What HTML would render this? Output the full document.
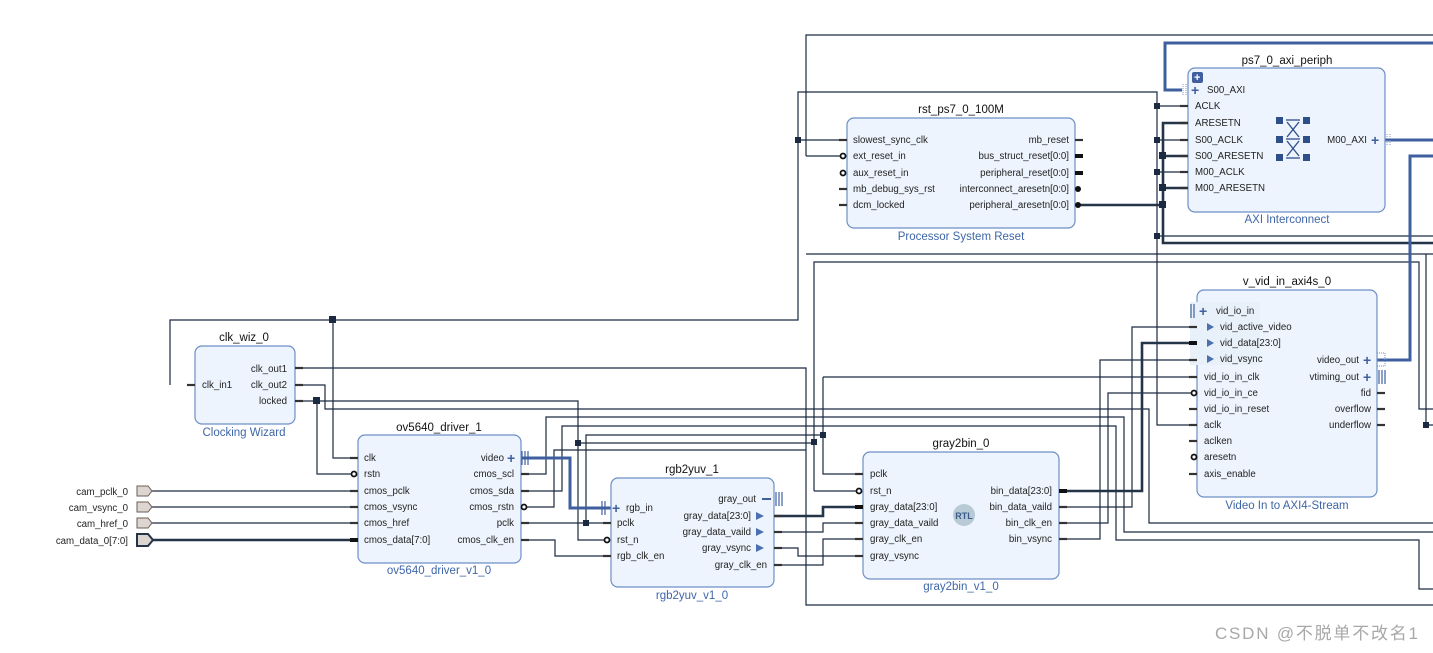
<!DOCTYPE html>
<html><head><meta charset="utf-8"><style>
html,body{margin:0;padding:0;background:#fff;}
svg{display:block;}
text{font-family:"Liberation Sans",sans-serif;font-size:9.7px;fill:#222;}
.t{font-size:11.5px;fill:#111;}
.s{font-size:11.5px;fill:#3f66a8;}
.b{fill:#edf4fd;stroke:#6d8fc6;stroke-width:1.2;}
.w{fill:none;stroke:#1b2a40;stroke-width:1.2;}
.wt{fill:none;stroke:#243449;stroke-width:2.6;}
.bl{fill:none;stroke:#3f5f9f;stroke-width:3;}
.p{stroke:#333;stroke-width:2.2;}
.pt{stroke:#111;stroke-width:4;}
.j{fill:#1b2a40;}
.r{text-anchor:end;}
.m{text-anchor:middle;}
</style></head><body>
<svg width="1433" height="653" viewBox="0 0 1433 653" xmlns="http://www.w3.org/2000/svg">
<g class="w">
<polyline points="806,156 806,35 1433,35"/>
<polyline points="806,156 847,156"/>
<polyline points="170,385 170,320 798,320 798,92 1157,92 1157,425 1197,425"/>
<polyline points="798,140 847,140"/>
<polyline points="333,320 333,458 358,458"/>
<polyline points="1157,106 1188,106"/>
<polyline points="1157,140 1188,140"/>
<polyline points="1157,172 1188,172"/>
<polyline points="1157,236 1433,236"/>
<polyline points="295,368 806,368 806,605 1433,605"/>
<polyline points="806,254 1433,254"/>
<polyline points="814,491 814,262 1419,262 1419,409 1433,409"/>
<polyline points="295,385 325,385 325,409 1149,409 1149,523 1433,523"/>
<polyline points="295,401 317,401 317,474 352,474"/>
<polyline points="317,401 578,401 578,540 605,540"/>
<polyline points="578,443 814,443"/>
<polyline points="814,491 857,491"/>
<polyline points="521,523 611,523"/>
<polyline points="586,523 586,435 823,435 823,474 863,474"/>
<polyline points="823,377 1197,377"/>
<polyline points="823,377 823,435"/>
<polyline points="521,474 546,474 546,417 1124,417 1124,532 1433,532"/>
<polyline points="521,491 562,491 562,426 1116,426 1116,540 1419,540 1419,589 1433,589"/>
<polyline points="527,507 554,507 554,450 806,450"/>
<polyline points="521,540 555,540 555,556 611,556"/>
<polyline points="774,532 823,532 823,523 863,523"/>
<polyline points="774,548 798,548 798,556 863,556"/>
<polyline points="774,565 823,565 823,539 863,539"/>
<polyline points="1059,507 1132,507 1132,327 1197,327"/>
<polyline points="1059,523 1108,523 1108,393 1191,393"/>
<polyline points="1059,539 1100,539 1100,360 1197,360"/>
<polyline points="152,491 358,491"/>
<polyline points="152,507 358,507"/>
<polyline points="152,523 358,523"/>
<polyline points="1426,254 1426,425 1433,425"/>
</g>
<g class="wt">
<polyline points="152,540 358,540"/>
<polyline points="774,516 823,516 823,507 863,507"/>
<polyline points="1059,491 1142,491 1142,343 1197,343"/>
<polyline points="1075,205 1163,205"/>
<polyline points="1188,123 1163,123 1163,243 1433,243"/>
<polyline points="1163,156 1188,156"/>
<polyline points="1163,188 1188,188"/>
</g>
<g class="bl">
<polyline points="521,458 570,458 570,508 611,508"/>
<polyline points="1182,90 1165,90 1165,43 1433,43"/>
<polyline points="1385,140 1433,140"/>
<polyline points="1377,360 1410,360 1410,156 1433,156"/>
</g>
<g class="j">
<rect x="329" y="316" width="7" height="7"/><rect x="313" y="397" width="7" height="7"/>
<rect x="795" y="137" width="6" height="6"/><rect x="1154" y="103" width="6" height="6"/>
<rect x="1154" y="137" width="6" height="6"/><rect x="1154" y="169" width="6" height="6"/>
<rect x="1154" y="233" width="6" height="6"/><rect x="1159" y="152" width="7" height="7"/>
<rect x="1159" y="184" width="7" height="7"/><rect x="1159" y="201" width="7" height="7"/>
<rect x="575" y="440" width="6" height="6"/><rect x="583" y="520" width="6" height="6"/>
<rect x="811" y="439" width="6" height="6"/><rect x="820" y="432" width="6" height="6"/>
<rect x="1423" y="422" width="6" height="6"/>
</g>
<g fill="#ddd5cf" stroke="#6b5e55" stroke-width="1">
<polygon points="137,486 148,486 152,491 148,496 137,496"/>
<polygon points="137,502 148,502 152,507 148,512 137,512"/>
<polygon points="137,518 148,518 152,523 148,528 137,528"/>
<polygon points="137,534 148,534 153,540 148,546 137,546" stroke="#243449" stroke-width="2"/>
</g>
<g class="t r" style="font-size:11px">
<text x="128" y="495" class="r">cam_pclk_0</text><text x="128" y="511" class="r">cam_vsync_0</text>
<text x="128" y="527" class="r">cam_href_0</text><text x="128" y="544" class="r">cam_data_0[7:0]</text>
</g>
<rect class="b" x="195" y="346" width="100" height="78" rx="7"/>
<text class="t m" x="244" y="341">clk_wiz_0</text><text class="s m" x="244" y="436">Clocking Wizard</text>
<line class="p" x1="187" y1="385" x2="195" y2="385"/><line class="p" x1="295" y1="368" x2="303" y2="368"/><line class="p" x1="295" y1="385" x2="303" y2="385"/><line class="p" x1="295" y1="401" x2="303" y2="401"/>
<text x="202" y="388">clk_in1</text><text class="r" x="287" y="372">clk_out1</text><text class="r" x="287" y="388">clk_out2</text><text class="r" x="287" y="404">locked</text>
<rect class="b" x="358" y="435" width="163" height="128" rx="7"/>
<text class="t m" x="439" y="431">ov5640_driver_1</text><text class="s m" x="439" y="574">ov5640_driver_v1_0</text>
<g class="p"><line x1="350" y1="458" x2="358" y2="458"/><line x1="350" y1="491" x2="358" y2="491"/><line x1="350" y1="507" x2="358" y2="507"/><line x1="350" y1="523" x2="358" y2="523"/><line x1="521" y1="474" x2="529" y2="474"/><line x1="521" y1="491" x2="529" y2="491"/><line x1="521" y1="523" x2="529" y2="523"/><line x1="521" y1="540" x2="529" y2="540"/></g>
<line class="pt" x1="350" y1="540" x2="358" y2="540"/>
<circle cx="354" cy="474" r="2.5" fill="#fff" stroke="#111" stroke-width="1.8"/><circle cx="524" cy="507" r="2.5" fill="#fff" stroke="#111" stroke-width="1.8"/>
<g><text x="364" y="461">clk</text><text x="364" y="477">rstn</text><text x="364" y="494">cmos_pclk</text><text x="364" y="510">cmos_vsync</text><text x="364" y="526">cmos_href</text><text x="364" y="543">cmos_data[7:0]</text>
<text class="r" x="504" y="461">video</text><text class="r" x="514" y="477">cmos_scl</text><text class="r" x="514" y="494">cmos_sda</text><text class="r" x="514" y="510">cmos_rstn</text><text class="r" x="514" y="526">pclk</text><text class="r" x="514" y="543">cmos_clk_en</text></g>
<text x="507" y="463" style="font-size:14px;fill:#3f5f9f;font-weight:bold">+</text>
<g stroke="#3f5f9f" stroke-width="1.2"><line x1="522" y1="451" x2="522" y2="465"/><line x1="525" y1="451" x2="525" y2="465"/><line x1="528" y1="451" x2="528" y2="465"/></g>
<rect class="b" x="611" y="478" width="163" height="109" rx="7"/>
<text class="t m" x="692" y="473">rgb2yuv_1</text><text class="s m" x="692" y="599">rgb2yuv_v1_0</text>
<g class="p"><line x1="603" y1="523" x2="611" y2="523"/><line x1="603" y1="556" x2="611" y2="556"/><line x1="774" y1="516" x2="782" y2="516"/><line x1="774" y1="532" x2="782" y2="532"/><line x1="774" y1="548" x2="782" y2="548"/><line x1="774" y1="565" x2="782" y2="565"/></g>
<circle cx="607" cy="540" r="2.5" fill="#fff" stroke="#111" stroke-width="1.8"/>
<g stroke="#3f5f9f" stroke-width="1.2"><line x1="602" y1="501" x2="602" y2="515"/><line x1="605" y1="501" x2="605" y2="515"/><line x1="776" y1="492" x2="776" y2="506"/><line x1="779" y1="492" x2="779" y2="506"/><line x1="782" y1="492" x2="782" y2="506"/></g>
<text x="612" y="513" style="font-size:14px;fill:#3f5f9f;font-weight:bold">+</text>
<line x1="762" y1="499" x2="771" y2="499" stroke="#3f5f9f" stroke-width="2"/>
<g fill="#4a70b0"><polygon points="756,512 764,516 756,520"/><polygon points="756,528 764,532 756,536"/><polygon points="756,544 764,548 756,552"/></g>
<g><text x="626" y="511">rgb_in</text><text x="617" y="526">pclk</text><text x="617" y="543">rst_n</text><text x="617" y="559">rgb_clk_en</text>
<text class="r" x="756" y="502">gray_out</text><text class="r" x="751" y="519">gray_data[23:0]</text><text class="r" x="751" y="535">gray_data_vaild</text><text class="r" x="751" y="551">gray_vsync</text><text class="r" x="767" y="568">gray_clk_en</text></g>
<rect class="b" x="863" y="452" width="196" height="127" rx="7"/>
<text class="t m" x="961" y="447">gray2bin_0</text><text class="s m" x="961" y="590">gray2bin_v1_0</text>
<g class="p"><line x1="855" y1="474" x2="863" y2="474"/><line x1="855" y1="523" x2="863" y2="523"/><line x1="855" y1="539" x2="863" y2="539"/><line x1="855" y1="556" x2="863" y2="556"/><line x1="1059" y1="507" x2="1067" y2="507"/><line x1="1059" y1="523" x2="1067" y2="523"/><line x1="1059" y1="539" x2="1067" y2="539"/></g>
<line class="pt" x1="855" y1="507" x2="863" y2="507"/><line class="pt" x1="1059" y1="491" x2="1067" y2="491"/>
<circle cx="859" cy="491" r="2.5" fill="#fff" stroke="#111" stroke-width="1.8"/>
<circle cx="964" cy="515" r="11" fill="#b8cad6"/><text class="m" x="964" y="519" style="font-size:9px;font-weight:bold;fill:#3a5b8a">RTL</text>
<g><text x="870" y="477">pclk</text><text x="870" y="494">rst_n</text><text x="870" y="510">gray_data[23:0]</text><text x="870" y="526">gray_data_vaild</text><text x="870" y="542">gray_clk_en</text><text x="870" y="559">gray_vsync</text>
<text class="r" x="1052" y="494">bin_data[23:0]</text><text class="r" x="1052" y="510">bin_data_vaild</text><text class="r" x="1052" y="526">bin_clk_en</text><text class="r" x="1052" y="542">bin_vsync</text></g>
<rect class="b" x="847" y="118" width="228" height="110" rx="7"/>
<text class="t m" x="961" y="113">rst_ps7_0_100M</text><text class="s m" x="961" y="240">Processor System Reset</text>
<g class="p"><line x1="839" y1="140" x2="847" y2="140"/><line x1="839" y1="189" x2="847" y2="189"/><line x1="839" y1="205" x2="847" y2="205"/><line x1="1075" y1="140" x2="1083" y2="140"/></g>
<g class="pt"><line x1="1075" y1="156" x2="1083" y2="156"/><line x1="1075" y1="173" x2="1083" y2="173"/></g>
<circle cx="843" cy="156" r="2.5" fill="#fff" stroke="#111" stroke-width="1.8"/><circle cx="843" cy="173" r="2.5" fill="#fff" stroke="#111" stroke-width="1.8"/>
<circle cx="1078" cy="189" r="3" fill="#111"/><circle cx="1078" cy="205" r="3" fill="#111"/>
<g><text x="853" y="143">slowest_sync_clk</text><text x="853" y="159">ext_reset_in</text><text x="853" y="176">aux_reset_in</text><text x="853" y="192">mb_debug_sys_rst</text><text x="853" y="208">dcm_locked</text>
<text class="r" x="1069" y="143">mb_reset</text><text class="r" x="1069" y="159">bus_struct_reset[0:0]</text><text class="r" x="1069" y="176">peripheral_reset[0:0]</text><text class="r" x="1069" y="192">interconnect_aresetn[0:0]</text><text class="r" x="1069" y="208">peripheral_aresetn[0:0]</text></g>
<rect class="b" x="1188" y="68" width="197" height="144" rx="7"/>
<text class="t m" x="1287" y="64">ps7_0_axi_periph</text><text class="s m" x="1287" y="223">AXI Interconnect</text>
<rect x="1192" y="72" width="11" height="11" rx="2" fill="#3f5f9f"/><text x="1194" y="81" style="fill:#fff;font-size:11px;font-weight:bold">+</text>
<g class="p"><line x1="1180" y1="106" x2="1188" y2="106"/><line x1="1180" y1="123" x2="1188" y2="123"/><line x1="1180" y1="140" x2="1188" y2="140"/><line x1="1180" y1="156" x2="1188" y2="156"/><line x1="1180" y1="172" x2="1188" y2="172"/><line x1="1180" y1="188" x2="1188" y2="188"/></g>
<g stroke="#7d9bd0" stroke-width="1" stroke-dasharray="1,1"><line x1="1183" y1="84" x2="1183" y2="96"/><line x1="1186" y1="84" x2="1186" y2="96"/><line x1="1387" y1="134" x2="1387" y2="146"/><line x1="1390" y1="134" x2="1390" y2="146"/></g>
<text x="1191" y="95" style="font-size:14px;fill:#3f5f9f;font-weight:bold">+</text><text x="1371" y="145" style="font-size:14px;fill:#3f5f9f;font-weight:bold">+</text>
<g><text x="1207" y="93">S00_AXI</text><text x="1195" y="109">ACLK</text><text x="1195" y="126">ARESETN</text><text x="1195" y="143">S00_ACLK</text><text x="1195" y="159">S00_ARESETN</text><text x="1195" y="175">M00_ACLK</text><text x="1195" y="191">M00_ARESETN</text><text class="r" x="1367" y="143">M00_AXI</text></g>
<g fill="#2d4f8a"><rect x="1276" y="117" width="7" height="7"/><rect x="1303" y="117" width="7" height="7"/><rect x="1276" y="136" width="7" height="7"/><rect x="1303" y="136" width="7" height="7"/><rect x="1276" y="154" width="7" height="7"/><rect x="1303" y="154" width="7" height="7"/></g>
<g stroke="#2d4f8a" stroke-width="1.3" fill="none"><line x1="1286" y1="120" x2="1300" y2="120"/><line x1="1286" y1="139" x2="1300" y2="139"/><line x1="1286" y1="158" x2="1300" y2="158"/><line x1="1287" y1="122" x2="1299" y2="137"/><line x1="1299" y1="122" x2="1287" y2="137"/><line x1="1287" y1="141" x2="1299" y2="156"/><line x1="1299" y1="141" x2="1287" y2="156"/></g>
<rect class="b" x="1197" y="290" width="180" height="207" rx="7"/>
<rect x="1190" y="302" width="70" height="63" fill="#e8f0fa"/>
<text class="t m" x="1287" y="285">v_vid_in_axi4s_0</text><text class="s m" x="1287" y="509">Video In to AXI4-Stream</text>
<g class="p"><line x1="1189" y1="327" x2="1197" y2="327"/><line x1="1189" y1="360" x2="1197" y2="360"/><line x1="1189" y1="377" x2="1197" y2="377"/><line x1="1189" y1="409" x2="1197" y2="409"/><line x1="1189" y1="425" x2="1197" y2="425"/><line x1="1189" y1="441" x2="1197" y2="441"/><line x1="1189" y1="474" x2="1197" y2="474"/>
<line x1="1377" y1="393" x2="1385" y2="393"/><line x1="1377" y1="409" x2="1385" y2="409"/><line x1="1377" y1="425" x2="1385" y2="425"/></g>
<line class="pt" x1="1189" y1="343" x2="1197" y2="343"/>
<circle cx="1194" cy="393" r="2.5" fill="#fff" stroke="#111" stroke-width="1.8"/><circle cx="1194" cy="457" r="2.5" fill="#fff" stroke="#111" stroke-width="1.8"/>
<g stroke="#3f5f9f" stroke-width="1.2"><line x1="1191" y1="304" x2="1191" y2="318"/><line x1="1194" y1="304" x2="1194" y2="318"/><line x1="1379" y1="370" x2="1379" y2="384"/><line x1="1382" y1="370" x2="1382" y2="384"/><line x1="1385" y1="370" x2="1385" y2="384"/></g>
<rect x="1377" y="353" width="8" height="13" fill="none" stroke="#6d8fc6" stroke-dasharray="1,1"/>
<g><text x="1199" y="316" style="font-size:14px;fill:#3f5f9f;font-weight:bold">+</text><text x="1363" y="365" style="font-size:14px;fill:#3f5f9f;font-weight:bold">+</text><text x="1363" y="382" style="font-size:14px;fill:#3f5f9f;font-weight:bold">+</text></g>
<g fill="#4a70b0"><polygon points="1207,323 1214,327 1207,331"/><polygon points="1207,339 1214,343 1207,347"/><polygon points="1207,355 1214,359 1207,363"/></g>
<g><text x="1216" y="314">vid_io_in</text><text x="1220" y="330">vid_active_video</text><text x="1220" y="346">vid_data[23:0]</text><text x="1220" y="362">vid_vsync</text><text x="1204" y="380">vid_io_in_clk</text><text x="1204" y="396">vid_io_in_ce</text><text x="1204" y="412">vid_io_in_reset</text><text x="1204" y="428">aclk</text><text x="1204" y="444">aclken</text><text x="1204" y="460">aresetn</text><text x="1204" y="477">axis_enable</text>
<text class="r" x="1359" y="363">video_out</text><text class="r" x="1359" y="380">vtiming_out</text><text class="r" x="1371" y="396">fid</text><text class="r" x="1371" y="412">overflow</text><text class="r" x="1371" y="428">underflow</text></g>
<text x="1215" y="639" textLength="203" style="font-family:'Liberation Sans','Noto Sans CJK SC',sans-serif;font-size:17px;fill:#a8a8a8">CSDN @不脱单不改名1</text>
</svg>
</body></html>
